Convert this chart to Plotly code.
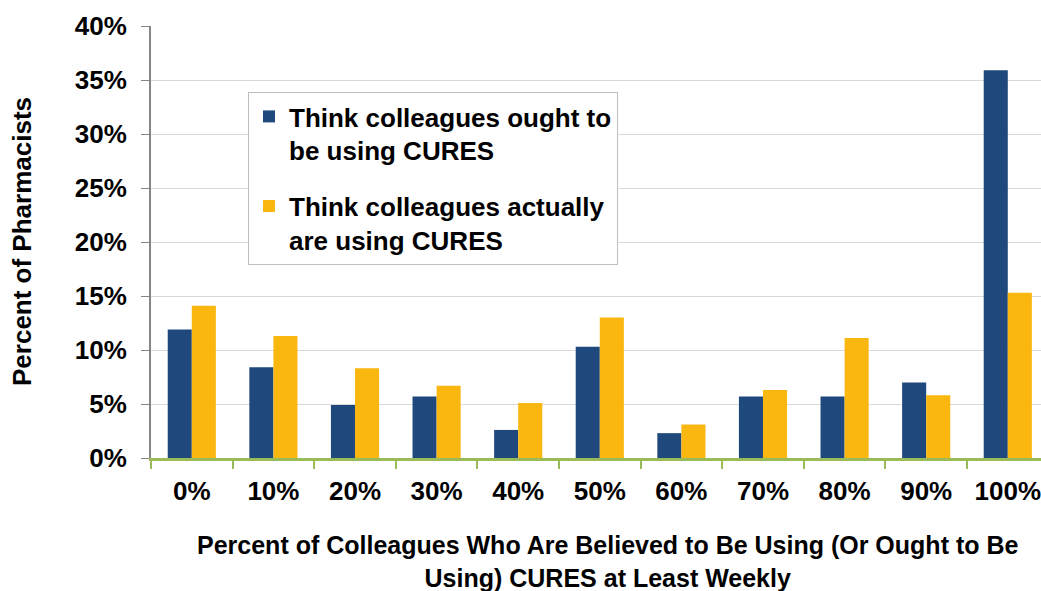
import plotly.graph_objects as go

categories = ["0%", "10%", "20%", "30%", "40%", "50%", "60%", "70%", "80%", "90%", "100%"]
ought_to = [11.9, 8.4, 4.9, 5.7, 2.6, 10.3, 2.3, 5.7, 5.7, 7.0, 35.9]
actually = [14.1, 11.3, 8.3, 6.7, 5.1, 13.0, 3.1, 6.3, 11.1, 5.8, 15.3]
y_ticks = [0, 5, 10, 15, 20, 25, 30, 35, 40]
y_tick_labels = ["0%", "5%", "10%", "15%", "20%", "25%", "30%", "35%", "40%"]
series_names = ["Think colleagues ought to<br>be using CURES",
                "Think colleagues actually<br>are using CURES"]
y_title = "Percent of Pharmacists"
x_title = "Percent of Colleagues Who Are Believed to Be Using (Or Ought to Be<br>Using) CURES at Least Weekly"

BLUE = "#1F497D"
YELLOW = "#F9B70F"
FONT = "Liberation Sans, Arial, sans-serif"
FS = 26

fig = go.Figure()
fig.add_trace(go.Bar(x=categories, y=ought_to, name=series_names[0],
                     marker=dict(color=BLUE, line=dict(width=0)), legendgroup="a"))
fig.add_trace(go.Bar(x=categories, y=actually, name=series_names[1],
                     marker=dict(color=YELLOW, line=dict(width=0)), legendgroup="b"))

fig.update_layout(
    width=1041, height=591,
    margin=dict(l=151, r=0, t=26, b=133),
    paper_bgcolor="white", plot_bgcolor="white",
    barmode="group", bargap=0.41, bargroupgap=0,
    font=dict(family=FONT, size=FS, color="black", weight="bold"),
    legend=dict(
        x=(248 - 151) / 890, y=(458 - 92) / 432, xanchor="left", yanchor="top",
        bordercolor="#BFBFBF", borderwidth=1, bgcolor="white",
        font=dict(family=FONT, size=FS, color="black", weight="bold"),
        traceorder="grouped", tracegroupgap=19, valign="top",
    ),
    xaxis=dict(
        range=[-0.5, 10.407],
        showline=True, linecolor="#9BBB59", linewidth=3,
        ticks="outside", tickson="boundaries", ticklen=8, tickwidth=2, tickcolor="#9BBB59",
        tickfont=dict(family=FONT, size=FS, color="black", weight="bold"),
        ticklabelstandoff=8,
        showgrid=False, zeroline=False,
    ),
    yaxis=dict(
        range=[0, 40], tickvals=y_ticks, ticktext=y_tick_labels,
        showline=True, linecolor="#868686", linewidth=2,
        ticks="outside", ticklen=8, tickwidth=1, tickcolor="#868686",
        tickfont=dict(family=FONT, size=FS, color="black", weight="bold"),
        ticklabelstandoff=9,
        showgrid=True, gridcolor="#D9D9D9", gridwidth=1, zeroline=False,
    ),
    annotations=[
        dict(text=y_title, xref="paper", yref="paper", x=-(151 - 22) / 890, y=0.5,
             xanchor="center", yanchor="middle", textangle=-90, showarrow=False,
             font=dict(family=FONT, size=FS, color="black", weight="bold")),
        dict(text=x_title, xref="paper", yref="paper", x=(607 - 151) / 890, y=-(561 - 458) / 432,
             xanchor="center", yanchor="middle", showarrow=False, align="center",
             font=dict(family=FONT, size=25, color="black", weight="bold")),
    ],
)

fig.write_html("out.html")
